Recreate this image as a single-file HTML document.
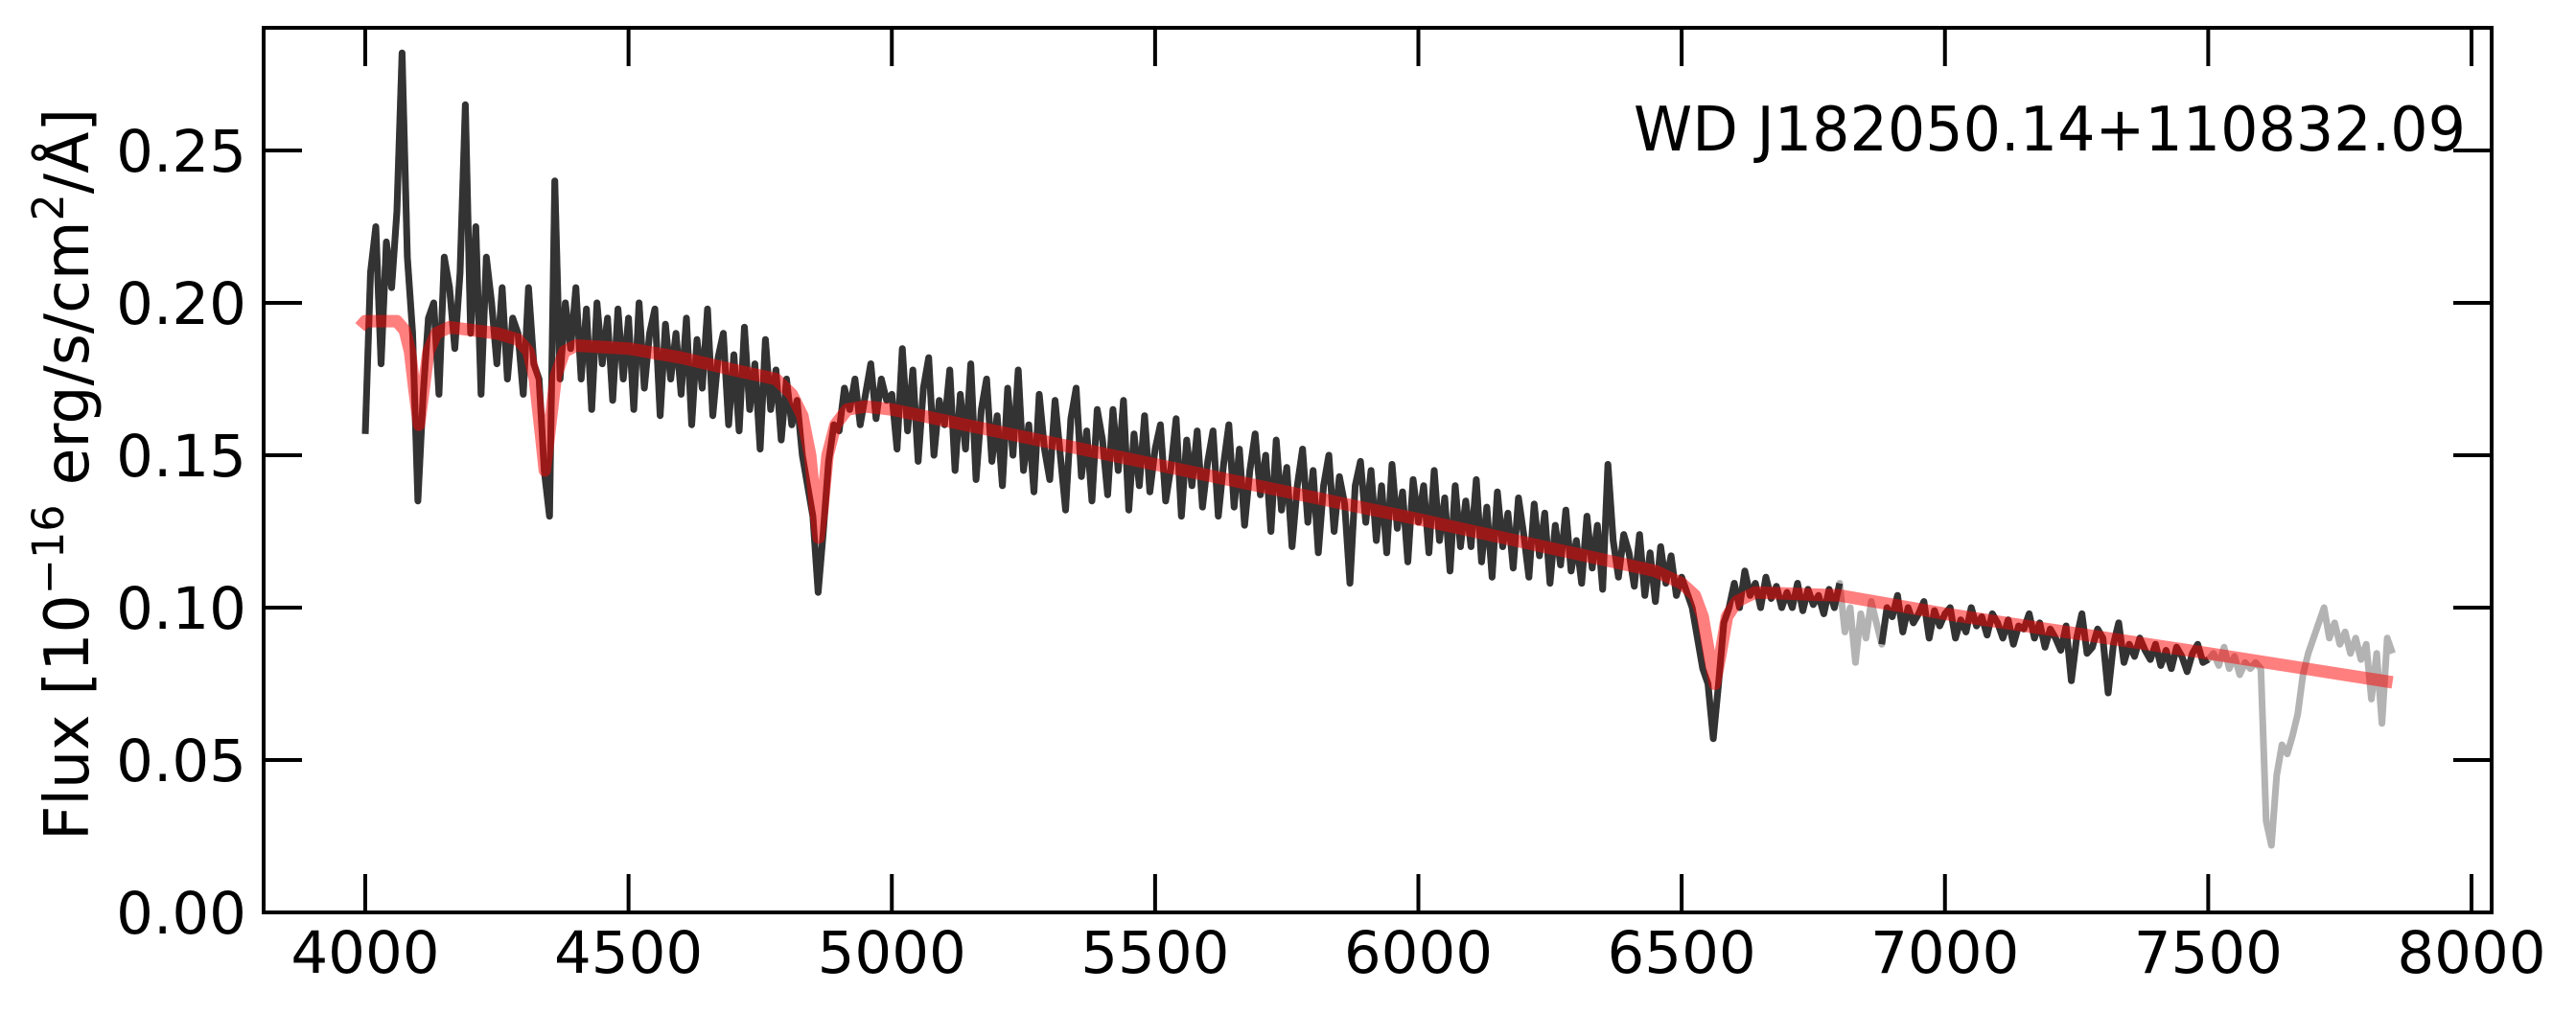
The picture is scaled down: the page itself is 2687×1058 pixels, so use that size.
<!DOCTYPE html>
<html><head><meta charset="utf-8"><style>
html,body{margin:0;padding:0;background:#fff;}
svg{display:block;}
text{font-family:"DejaVu Sans","Liberation Sans",sans-serif;fill:#000;}
</style></head><body>
<svg id="chart" xmlns="http://www.w3.org/2000/svg" width="2687" height="1058" viewBox="0 0 2687 1058">
<g id="plot"></g>
<g id="axes"></g>
<text x="2572" y="157" font-size="64" text-anchor="end" textLength="868" lengthAdjust="spacingAndGlyphs">WD J182050.14+110832.09</text>
<text transform="translate(92,495) rotate(-90)" font-size="64" text-anchor="middle" textLength="764" lengthAdjust="spacingAndGlyphs">Flux [10<tspan dy="-26" font-size="45">−16</tspan><tspan dy="26"> erg/s/cm</tspan><tspan dy="-26" font-size="45">2</tspan><tspan dy="26">/Å]</tspan></text>
</svg>
<script>
const xTicks = [4000,4500,5000,5500,6000,6500,7000,7500,8000];
const yTicks = [0.00,0.05,0.10,0.15,0.20,0.25];
const yTickLabels = ["0.00","0.05","0.10","0.15","0.20","0.25"];
const waveStart = 4000;
const waveStep = 10;
const flux = [
0.157,0.21,0.225,0.18,0.22,0.205,0.23,0.282,0.215,0.19,
0.135,0.17,0.195,0.2,0.17,0.215,0.205,0.185,0.21,0.265,
0.19,0.225,0.17,0.215,0.2,0.18,0.205,0.175,0.195,0.19,
0.17,0.205,0.18,0.175,0.145,0.13,0.24,0.175,0.2,0.185,
0.205,0.175,0.198,0.165,0.2,0.18,0.195,0.168,0.198,0.175,
0.195,0.165,0.2,0.172,0.19,0.198,0.163,0.193,0.175,0.19,
0.17,0.195,0.16,0.188,0.172,0.198,0.163,0.182,0.19,0.16,
0.183,0.158,0.192,0.165,0.18,0.152,0.188,0.165,0.178,0.155,
0.175,0.16,0.168,0.15,0.14,0.13,0.105,0.125,0.148,0.16,
0.158,0.172,0.165,0.175,0.16,0.17,0.18,0.162,0.175,0.168,
0.17,0.152,0.185,0.158,0.178,0.148,0.172,0.182,0.15,0.168,
0.16,0.178,0.145,0.17,0.152,0.18,0.142,0.165,0.175,0.148,
0.163,0.14,0.172,0.15,0.178,0.145,0.16,0.138,0.17,0.152,
0.142,0.168,0.15,0.132,0.162,0.172,0.143,0.158,0.135,0.165,
0.155,0.137,0.165,0.145,0.168,0.132,0.157,0.14,0.163,0.138,
0.152,0.16,0.135,0.146,0.162,0.13,0.155,0.14,0.158,0.133,
0.148,0.158,0.13,0.147,0.16,0.133,0.152,0.127,0.145,0.157,
0.137,0.15,0.125,0.155,0.132,0.146,0.12,0.14,0.152,0.128,
0.145,0.118,0.14,0.15,0.125,0.143,0.134,0.108,0.14,0.148,
0.128,0.145,0.122,0.14,0.118,0.147,0.126,0.138,0.115,0.142,
0.128,0.14,0.118,0.145,0.122,0.136,0.112,0.14,0.12,0.135,
0.12,0.142,0.115,0.133,0.11,0.138,0.12,0.131,0.113,0.136,
0.124,0.11,0.134,0.117,0.131,0.108,0.127,0.114,0.132,0.112,
0.122,0.108,0.13,0.113,0.127,0.106,0.147,0.122,0.11,0.124,
0.118,0.107,0.124,0.104,0.118,0.102,0.12,0.108,0.117,0.104,
0.11,0.105,0.1,0.09,0.08,0.075,0.057,0.075,0.095,0.1,
0.108,0.1,0.112,0.104,0.108,0.1,0.11,0.103,0.107,0.1,
0.105,0.1,0.108,0.099,0.106,0.101,0.104,0.098,0.106,0.1,
0.108,0.092,0.1,0.082,0.098,0.09,0.102,0.095,0.088,0.1,
0.097,0.104,0.092,0.1,0.095,0.098,0.102,0.09,0.099,0.094,
0.098,0.1,0.09,0.096,0.092,0.1,0.094,0.097,0.091,0.098,
0.095,0.09,0.096,0.088,0.094,0.093,0.098,0.09,0.095,0.087,
0.093,0.09,0.086,0.094,0.076,0.09,0.098,0.085,0.087,0.093,
0.09,0.072,0.088,0.095,0.082,0.088,0.084,0.09,0.086,0.083,
0.088,0.081,0.086,0.08,0.087,0.084,0.079,0.085,0.088,0.082,
0.083,0.085,0.081,0.087,0.08,0.084,0.078,0.082,0.08,0.082,
0.08,0.03,0.022,0.045,0.055,0.052,0.058,0.065,0.078,0.085,
0.09,0.095,0.1,0.09,0.095,0.088,0.092,0.085,0.09,0.083,
0.088,0.07,0.085,0.062,0.09,0.085
];
const fitRanges = [[4000,6800],[6880,7500]];
const modelWave = [3990,4000,4060,4075,4085,4093,4102,4111,4120,4135,4160,4250,4290,4310,4322,4333,4341,4350,4362,4378,4400,4500,4600,4700,4780,4810,4830,4845,4855,4861,4868,4878,4893,4915,4950,5000,5500,6000,6450,6500,6525,6540,6552,6563,6574,6586,6605,6640,6800,7000,7500,7850];
const modelFlux = [0.192,0.194,0.194,0.191,0.184,0.172,0.160,0.172,0.184,0.190,0.192,0.190,0.188,0.184,0.175,0.158,0.145,0.158,0.176,0.184,0.186,0.185,0.182,0.178,0.175,0.170,0.163,0.150,0.132,0.123,0.132,0.150,0.160,0.165,0.166,0.165,0.147,0.129,0.112,0.108,0.104,0.097,0.085,0.075,0.085,0.097,0.102,0.105,0.104,0.098,0.085,0.0755];

const NS = "http://www.w3.org/2000/svg";
const X0 = 381, XPER = 0.54925;
const Y0 = 952, YPER = 3180;
function xs(w){ return X0 + (w - 4000) * XPER; }
function ys(f){ return Y0 - f * YPER; }
const plot = document.getElementById('plot');
const axes = document.getElementById('axes');
function mk(tag, attrs, parent){ const e = document.createElementNS(NS, tag); for (const k in attrs) e.setAttribute(k, attrs[k]); parent.appendChild(e); return e; }

function pathFor(filter){
  let d = '', pen = false;
  for (let i = 0; i < flux.length; i++){
    const w = waveStart + i * waveStep;
    if (filter(w)){ d += (pen ? 'L' : 'M') + xs(w).toFixed(1) + ',' + ys(flux[i]).toFixed(1); pen = true; }
    else pen = false;
  }
  return d;
}
const grey = mk('path', {d: pathFor(() => true), fill: 'none', stroke: '#b3b3b3', 'stroke-width': 7, 'stroke-linejoin': 'round'}, plot);


const black = mk('path', {d: pathFor(w => fitRanges.some(r => w >= r[0] && w <= r[1])), fill: 'none', stroke: '#333333', 'stroke-width': 7, 'stroke-linejoin': 'round'}, plot);


let md = '';
for (let i = 0; i < modelWave.length; i++) md += (i ? 'L' : 'M') + xs(modelWave[i]).toFixed(1) + ',' + ys(modelFlux[i]).toFixed(1);
const model = mk('path', {d: md, fill: 'none', stroke: 'rgba(255,0,0,0.5)', 'stroke-width': 13, 'stroke-linejoin': 'round'}, plot);



const L = 275, R = 2599, T = 29, B = 952;
const frame = mk('rect', {x: L, y: T, width: R - L, height: B - T, fill: 'none', stroke: '#000', 'stroke-width': 4}, axes);


xTicks.forEach(t => {
  const x = xs(t);
  const tb = mk('line', {x1: x, x2: x, y1: B, y2: B - 40, stroke: '#000', 'stroke-width': 4}, axes);
  
  
  const tt = mk('line', {x1: x, x2: x, y1: T, y2: T + 40, stroke: '#000', 'stroke-width': 4}, axes);
  
  
  const lb = mk('text', {x: x, y: 1015, 'font-size': 61, 'text-anchor': 'middle'}, axes);
  lb.textContent = String(t);
  
  
});
yTicks.forEach((t, i) => {
  const y = ys(t);
  const tl = mk('line', {x1: L, x2: L + 40, y1: y, y2: y, stroke: '#000', 'stroke-width': 4}, axes);
  
  
  const tr = mk('line', {x1: R, x2: R - 40, y1: y, y2: y, stroke: '#000', 'stroke-width': 4}, axes);
  
  
  const lb = mk('text', {x: 257, y: y + 22, 'font-size': 61, 'text-anchor': 'end'}, axes);
  lb.textContent = yTickLabels[i];
  
  
});
</script>
</body></html>
